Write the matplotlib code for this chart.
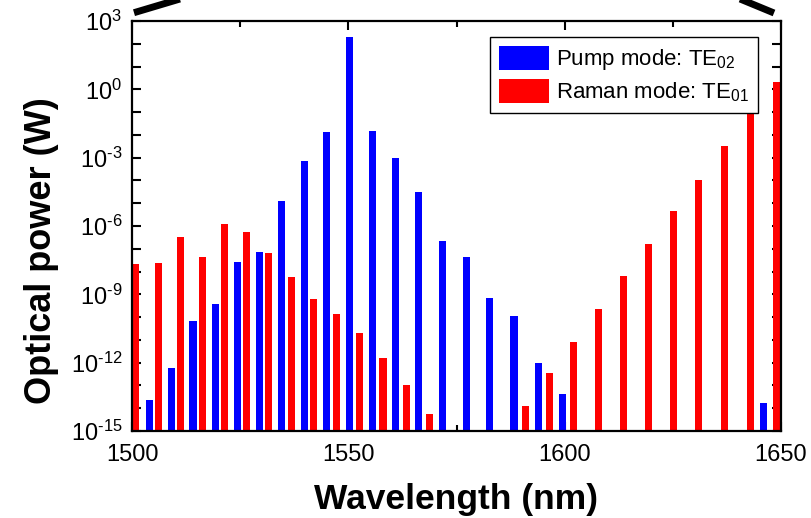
import matplotlib
matplotlib.use("Agg")
import matplotlib.pyplot as plt
from matplotlib.lines import Line2D
from matplotlib.ticker import FixedLocator, FixedFormatter, MultipleLocator

plt.rcParams['font.family'] = ['Liberation Sans', 'DejaVu Sans']
plt.rcParams['mathtext.fontset'] = 'custom'
plt.rcParams['mathtext.rm'] = 'Liberation Sans'
plt.rcParams['mathtext.it'] = 'Liberation Sans:italic'
plt.rcParams['mathtext.bf'] = 'Liberation Sans:bold'

# ---- data ----
pump_wavelength = [1504.1, 1509.1, 1514.1, 1519.2, 1524.3, 1529.4, 1534.5, 1539.8,
                   1545.0, 1550.2, 1555.5, 1560.9, 1566.3, 1571.7, 1577.3, 1582.7,
                   1588.3, 1593.9, 1599.5, 1645.9]
pump_power = [2.3e-14, 5.6e-13, 6.8e-11, 3.8e-10, 2.5e-8, 7.1e-8, 1.3e-5, 7.1e-4,
              1.3e-2, 200, 1.5e-2, 9.8e-4, 3.1e-5, 2.1e-7, 4.4e-8, 6.9e-10,
              1.1e-10, 1.0e-12, 4.1e-14, 1.7e-14]

raman_wavelength = [1500.9, 1506.1, 1511.2, 1516.2, 1521.3, 1526.5, 1531.6, 1536.8,
                    1542.0, 1547.3, 1552.6, 1558.0, 1563.4, 1568.8, 1590.9, 1596.5,
                    1602.1, 1607.8, 1613.6, 1619.4, 1625.1, 1631.0, 1636.9, 1642.9,
                    1648.9]
raman_power = [2.1e-8, 2.4e-8, 3.4e-7, 4.3e-8, 1.2e-6, 5.5e-7, 6.6e-8, 5.6e-9,
               6.3e-10, 1.4e-10, 2.1e-11, 1.6e-12, 1.0e-13, 5.6e-15, 1.2e-14, 3.5e-13,
               8.1e-12, 2.2e-10, 6.5e-9, 1.7e-7, 4.6e-6, 1.1e-4, 3.2e-3, 0.13,
               2.2]

pump_label = r'Pump mode: TE$\mathregular{_{02}}$'
raman_label = r'Raman mode: TE$\mathregular{_{01}}$'

y_exponents = [3, 0, -3, -6, -9, -12, -15]
x_ticks = [1500, 1550, 1600, 1650]


def exp_label(e):
    if e < 0:
        return r'$\mathregular{10^{\text{-}%d}}$' % (-e)
    return r'$\mathregular{10^{%d}}$' % e


# ---- figure ----
fig = plt.figure(figsize=(8.12, 5.18), dpi=100)
ax = fig.add_axes([132/812, 1-431/518, (781-132)/812, (431-21)/518])

bw = 1.65
ax.bar(pump_wavelength, pump_power, width=bw, bottom=1e-20, color='#0000ff',
       label=pump_label, zorder=2)
ax.bar(raman_wavelength, raman_power, width=bw, bottom=1e-20, color='#ff0000',
       label=raman_label, zorder=2)

ax.set_yscale('log')
ax.set_xlim(1500, 1650)
ax.set_ylim(1e-15, 1e3)

ax.yaxis.set_major_locator(FixedLocator([10.0**e for e in y_exponents]))
ax.yaxis.set_major_formatter(FixedFormatter([exp_label(e) for e in y_exponents]))
ax.yaxis.set_minor_locator(FixedLocator([10.0**e for e in range(-15, 4)]))
ax.yaxis.set_minor_formatter(FixedFormatter([''] * 19))
ax.xaxis.set_major_locator(FixedLocator(x_ticks))
ax.xaxis.set_minor_locator(MultipleLocator(25))

ax.tick_params(which='both', direction='in', top=True, right=True, width=1.5,
               labelsize=17)
ax.tick_params(axis='y', which='both', length=6.5, pad=7)
ax.tick_params(axis='x', which='major', length=6.5, pad=9.5)
ax.tick_params(axis='x', which='minor', length=4.5)
for s in ax.spines.values():
    s.set_linewidth(1.6)

ax.set_xlabel('Wavelength (nm)', fontsize=25.5, fontweight='bold')
ax.set_ylabel('Optical power (W)', fontsize=26, fontweight='bold')
ax.xaxis.set_label_coords(0.5, -0.126)
ax.yaxis.set_label_coords(-0.112, 0.44)

leg = ax.legend(loc='upper right', bbox_to_anchor=(0.964, 0.961), borderaxespad=0,
                fontsize=16, fancybox=False, edgecolor='black', framealpha=1,
                handlelength=2.25, handleheight=1.29, handletextpad=0.3,
                borderpad=0.4, labelspacing=0.3)
leg.get_frame().set_linewidth(1.0)
leg.set_zorder(5)

# decorative zoom-lines above the axes
W, H = 812, 518
fig.add_artist(Line2D([134/W, 200/W], [1-12.7/H, 1+7/H], color='black', lw=5,
                      solid_capstyle='butt', transform=fig.transFigure))
fig.add_artist(Line2D([728/W, 774/W], [1+6/H, 1-13/H], color='black', lw=5,
                      solid_capstyle='butt', transform=fig.transFigure))

fig.savefig('out.png', dpi=100)
